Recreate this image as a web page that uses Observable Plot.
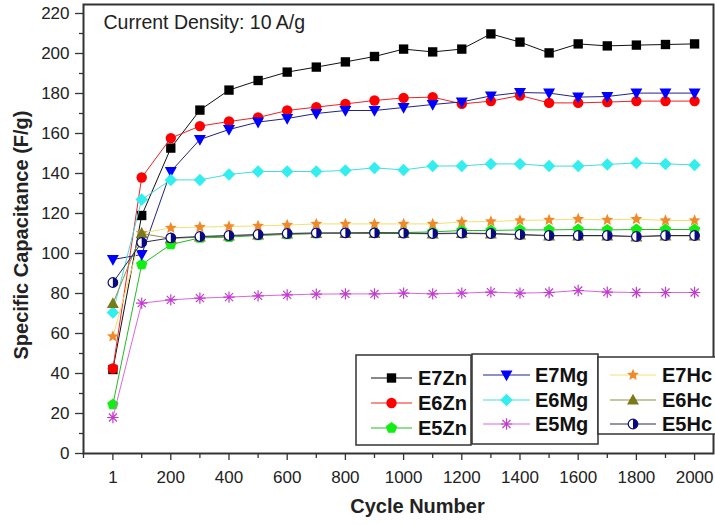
<!DOCTYPE html>
<html>
<head>
<meta charset="utf-8">
<script src="https://cdn.jsdelivr.net/npm/d3@7"></script>
<script src="https://cdn.jsdelivr.net/npm/@observablehq/plot@0.6"></script>
<style>
  html, body { margin: 0; padding: 0; background: #fff; }
  svg { display: block; }
</style>
</head>
<body>
<div id="chart"></div>
<script>
// ---------- data ----------
const cycles = [1, 100, 200, 300, 400, 500, 600, 700, 800, 900, 1000, 1100, 1200, 1300, 1400, 1500, 1600, 1700, 1800, 1900, 2000];

const E7Zn = [42, 119, 152.7, 171.7, 181.7, 186.5, 190.7, 193.2, 195.8, 198.5, 202.2, 200.8, 202.2, 209.8, 205.7, 200.3, 204.8, 203.8, 204.2, 204.5, 204.8];
const E6Zn = [42.5, 138, 157.7, 163.7, 166, 168, 171.5, 173.2, 174.8, 176.5, 177.8, 178.2, 174.8, 176.2, 179, 175.3, 175.3, 175.7, 176.2, 176.2, 176.2];
const E5Zn = [24.5, 94.5, 104.5, 107.8, 108.2, 109, 109.5, 110, 110.2, 110.5, 110.5, 110.8, 111.5, 111.5, 111.8, 111.8, 112, 111.8, 112, 112, 112];
const E7Mg = [97, 99.5, 141, 157, 162, 165.7, 167.5, 170, 171.5, 171.5, 173, 174.5, 175.8, 178.8, 180.5, 180.2, 178.2, 178.5, 180.2, 180.2, 180.2];
const E6Mg = [70.5, 127, 136.8, 136.8, 139.5, 141, 141, 141, 141.5, 142.8, 141.8, 143.7, 143.8, 144.8, 144.8, 143.7, 143.7, 144.5, 145.3, 144.8, 144.3];
const E5Mg = [18, 75.2, 76.8, 77.7, 78.2, 78.8, 79.3, 79.7, 79.8, 79.8, 80.2, 79.8, 80.2, 80.7, 80.2, 80.5, 81.5, 80.7, 80.5, 80.5, 80.5];
const E7Hc = [58.5, 110.2, 112.8, 113.2, 113.5, 113.8, 114.2, 114.8, 114.8, 114.8, 114.8, 114.8, 115.8, 116, 116.5, 116.8, 117.2, 116.8, 117.2, 116.5, 116.5];
const E6Hc = [75, 110, 107.5, 108.2, 108.7, 109.2, 109.7, 110, 110, 110, 110, 109.8, 110, 109.8, 109.3, 108.8, 108.8, 108.8, 108.3, 108.8, 108.8];
const E5Hc = [85.5, 105.5, 107.8, 108.5, 109, 109.5, 110, 110.3, 110.3, 110.3, 110.2, 110, 110.2, 110, 109.5, 109, 109, 109, 108.5, 109, 109];

const seriesNames = ["E7Zn", "E6Zn", "E5Zn", "E7Mg", "E6Mg", "E5Mg", "E7Hc", "E6Hc", "E5Hc"];
const seriesValues = [E7Zn, E6Zn, E5Zn, E7Mg, E6Mg, E5Mg, E7Hc, E6Hc, E5Hc];

const xTicks = [1, 200, 400, 600, 800, 1000, 1200, 1400, 1600, 1800, 2000];
const xMinor = [-100, 100, 300, 500, 700, 900, 1100, 1300, 1500, 1700, 1900];
const yTicks = [0, 20, 40, 60, 80, 100, 120, 140, 160, 180, 200, 220];
const yMinor = [10, 30, 50, 70, 90, 110, 130, 150, 170, 190, 210];

const titleText = "Current Density: 10 A/g";
const xLabel = "Cycle Number";
const yLabel = "Specific Capacitance (F/g)";

// ---------- symbols ----------
const rad = s => Math.sqrt(s / Math.PI);
const symTriDown = {draw(c, s) { const r = rad(s) * 1.15; c.moveTo(-r, -r * 0.75); c.lineTo(r, -r * 0.75); c.lineTo(0, r * 1.05); c.closePath(); }};
const symTriUp = {draw(c, s) { const r = rad(s) * 1.15; c.moveTo(-r, r * 0.75); c.lineTo(r, r * 0.75); c.lineTo(0, -r * 1.05); c.closePath(); }};
const symPentagon = {draw(c, s) { const r = rad(s) * 1.15; for (let k = 0; k < 5; k++) { const a = -Math.PI / 2 + k * 2 * Math.PI / 5; const px = r * Math.cos(a), py = r * Math.sin(a); if (k === 0) c.moveTo(px, py); else c.lineTo(px, py); } c.closePath(); }};
const symDiamond = {draw(c, s) { const r = rad(s) * 1.2; c.moveTo(0, -r); c.lineTo(r, 0); c.lineTo(0, r); c.lineTo(-r, 0); c.closePath(); }};
const symStar = {draw(c, s) { const R = rad(s) * 1.2, ri = R * 0.45; for (let k = 0; k < 10; k++) { const a = -Math.PI / 2 + k * Math.PI / 5; const rr = k % 2 ? ri : R; const px = rr * Math.cos(a), py = rr * Math.sin(a); if (k === 0) c.moveTo(px, py); else c.lineTo(px, py); } c.closePath(); }};
const symAsterisk = {draw(c, s) { const r = rad(s) * 1.1; for (let k = 0; k < 4; k++) { const a = k * Math.PI / 4; c.moveTo(-r * Math.cos(a), -r * Math.sin(a)); c.lineTo(r * Math.cos(a), r * Math.sin(a)); } }};
const symSquare = {draw(c, s) { const h = rad(s) * 0.9; c.moveTo(-h, -h); c.lineTo(h, -h); c.lineTo(h, h); c.lineTo(-h, h); c.closePath(); }};
const symCircle = {draw(c, s) { const r = rad(s); c.moveTo(r, 0); c.arc(0, 0, r, 0, 2 * Math.PI); c.closePath(); }};
const symHalfRight = {draw(c, s) { const r = rad(s); c.moveTo(0, -r); c.arc(0, 0, r, -Math.PI / 2, Math.PI / 2); c.closePath(); }};

// style per series
const styles = {
  E7Zn: {line: "#111111", sym: symSquare, fill: "#000000", stroke: "none", r: 5.2},
  E6Zn: {line: "#ee2222", sym: symCircle, fill: "#ff0000", stroke: "none", r: 5.2},
  E5Zn: {line: "#22bb22", sym: symPentagon, fill: "#11ee11", stroke: "none", r: 5.2},
  E7Mg: {line: "#22228a", sym: symTriDown, fill: "#0000ff", stroke: "none", r: 5.2},
  E6Mg: {line: "#44dddd", sym: symDiamond, fill: "#33eeee", stroke: "none", r: 5.2},
  E5Mg: {line: "#dd66dd", sym: symAsterisk, fill: "none", stroke: "#c33cd0", r: 5.2},
  E7Hc: {line: "#f3df70", sym: symStar, fill: "#f0892a", stroke: "none", r: 5.2},
  E6Hc: {line: "#8f8f48", sym: symTriUp, fill: "#7a7a18", stroke: "none", r: 5.2},
  E5Hc: {line: "#2a2a55", sym: "half", fill: "#0a0a80", stroke: "#0a0a80", r: 4.8}
};

// long table
const rows = [];
seriesNames.forEach((name, i) => {
  cycles.forEach((c, j) => rows.push({series: name, cycle: c, value: seriesValues[i][j]}));
});

const seriesMarks = [];
seriesNames.forEach(name => {
  const st = styles[name];
  const data = rows.filter(d => d.series === name);
  seriesMarks.push(Plot.line(data, {x: "cycle", y: "value", stroke: st.line, strokeWidth: 1}));
  if (st.sym === "half") {
    seriesMarks.push(Plot.dot(data, {x: "cycle", y: "value", r: st.r, symbol: symCircle, fill: "white", stroke: st.stroke, strokeWidth: 1.2}));
    seriesMarks.push(Plot.dot(data, {x: "cycle", y: "value", r: st.r, symbol: symHalfRight, fill: st.fill, stroke: "none"}));
  } else {
    seriesMarks.push(Plot.dot(data, {x: "cycle", y: "value", r: st.r, symbol: st.sym, fill: st.fill, stroke: st.stroke, strokeWidth: st.stroke === "none" ? 0 : 1.2}));
  }
});

const chart = Plot.plot({
  width: 715,
  height: 525,
  marginLeft: 83,
  marginRight: 2,
  marginTop: 4,
  marginBottom: 72,
  x: {domain: [-100, 2065]},
  y: {domain: [0, 224.5]},
  style: {fontFamily: "Arial, 'Liberation Sans', sans-serif", fontSize: "17px", color: "#222", background: "white"},
  marks: [
    Plot.axisY({ticks: yTicks, tickSize: 8, tickPadding: 6, label: null, stroke: "#333", strokeWidth: 1.3, tickFormat: d => String(d)}),
    Plot.axisY({ticks: yMinor, tickSize: 4, text: null, label: null, stroke: "#333", strokeWidth: 1.3}),
    Plot.axisX({ticks: xTicks, tickSize: 7, tickPadding: 10, label: null, stroke: "#333", strokeWidth: 1.3, tickFormat: d => String(d)}),
    Plot.axisX({ticks: xMinor, tickSize: 5, text: null, label: null, stroke: "#333", strokeWidth: 1.3}),
    ...seriesMarks,
    Plot.frame({stroke: "#333", strokeWidth: 2}),
    Plot.text([titleText], {text: d => d, frameAnchor: "top-left", dx: 20, dy: 18, textAnchor: "start", lineAnchor: "middle", fontSize: 19.5, fill: "#222"}),
    Plot.text([xLabel], {text: d => d, frameAnchor: "bottom", dx: 19, dy: 53, textAnchor: "middle", lineAnchor: "middle", fontSize: 20, fontWeight: "bold", fill: "#222"}),
    Plot.text([yLabel], {text: d => d, frameAnchor: "left", rotate: -90, dx: -62, dy: 6, textAnchor: "middle", lineAnchor: "middle", fontSize: 20, fontWeight: "bold", fill: "#222"})
  ]
});

// ---------- legend (three boxes) ----------
const legendGroups = [
  {names: ["E7Zn", "E6Zn", "E5Zn"], box: [356, 355, 115, 90], rowsY: [378, 403, 428], line: [371, 412], tx: 418},
  {names: ["E7Mg", "E6Mg", "E5Mg"], box: [472, 354, 126, 90], rowsY: [375, 400, 424], line: [483, 530], tx: 535},
  {names: ["E7Hc", "E6Hc", "E5Hc"], box: [598, 357, 120, 77], rowsY: [375, 400, 424], line: [610, 656], tx: 662}
];
const svg = d3.select(chart);
const lg = svg.append("g").attr("font-family", "Arial, 'Liberation Sans', sans-serif").attr("text-anchor", "start");
legendGroups.forEach(g => {
  const [bx, by, bw, bh] = g.box;
  lg.append("rect").attr("x", bx).attr("y", by).attr("width", bw).attr("height", bh)
    .attr("fill", "white").attr("stroke", "#333").attr("stroke-width", 1.5);
  g.names.forEach((name, i) => {
    const st = styles[name];
    const y = g.rowsY[i];
    const mx = (g.line[0] + g.line[1]) / 2;
    lg.append("line").attr("x1", g.line[0]).attr("x2", g.line[1]).attr("y1", y).attr("y2", y)
      .attr("stroke", st.line).attr("stroke-width", 1);
    const size = Math.PI * st.r * st.r;
    if (st.sym === "half") {
      lg.append("path").attr("d", d3.symbol(symCircle, size)()).attr("transform", `translate(${mx},${y})`)
        .attr("fill", "white").attr("stroke", st.stroke).attr("stroke-width", 1.2);
      lg.append("path").attr("d", d3.symbol(symHalfRight, size)()).attr("transform", `translate(${mx},${y})`)
        .attr("fill", st.fill);
    } else {
      lg.append("path").attr("d", d3.symbol(st.sym, size)()).attr("transform", `translate(${mx},${y})`)
        .attr("fill", st.fill).attr("stroke", st.stroke).attr("stroke-width", st.stroke === "none" ? 0 : 1.2);
    }
    lg.append("text").attr("x", g.tx).attr("y", y).attr("dy", "0.36em").attr("text-anchor", "start")
      .attr("font-size", 20).attr("font-weight", "bold").attr("fill", "#111").text(name);
  });
});

document.getElementById("chart").appendChild(chart);
</script>
</body>
</html>
